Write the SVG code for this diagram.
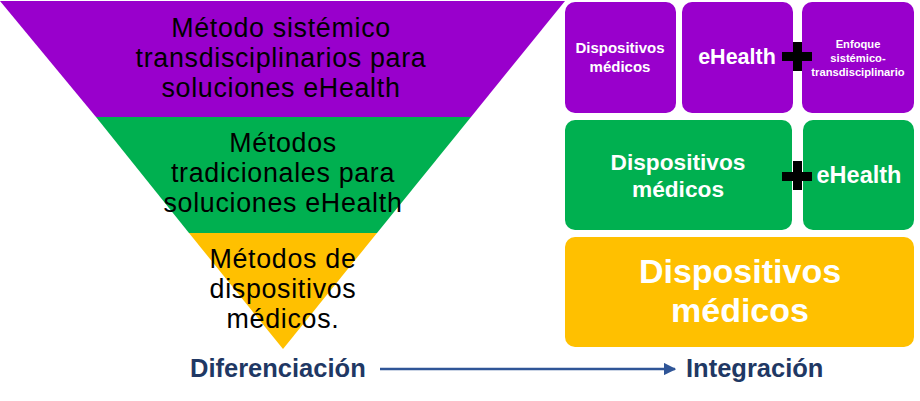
<svg xmlns="http://www.w3.org/2000/svg" width="920" height="401" viewBox="0 0 920 401">
<defs>
<style>
.tri{font-family:"Liberation Sans",Arial,sans-serif;font-size:26.8px;letter-spacing:0.7px;fill:#000;text-anchor:middle}
.box{font-family:"Liberation Sans",Arial,sans-serif;font-weight:bold;fill:#fff;text-anchor:middle}
.lbl{font-family:"Liberation Sans",Arial,sans-serif;font-weight:bold;font-size:25.5px;fill:#1F3864}
.p{fill:#9900CC}.g{fill:#00B050}.y{fill:#FFC000}
</style>
<marker id="ah" viewBox="0 0 10 10" refX="9" refY="5" markerWidth="5" markerHeight="5" orient="auto">
<path d="M0,0 L10,5 L0,10 z" fill="#2F5597"/>
</marker>
</defs>
<g id="pyramid">
<g id="tri-top"><polygon class="p" points="0,1 565,1 471,117 96,117"/>
<text class="tri" x="281" y="37">Método sistémico</text>
<text class="tri" x="281" y="67">transdisciplinarios para</text>
<text class="tri" x="281" y="97">soluciones eHealth</text></g>
<g id="tri-mid"><polygon class="g" points="96,117 471,117 377,233 189,233"/>
<text class="tri" x="283" y="152">Métodos</text>
<text class="tri" x="283" y="182">tradicionales para</text>
<text class="tri" x="283" y="212">soluciones eHealth</text></g>
<g id="tri-bot"><polygon class="y" points="189,233 377,233 283,349"/>
<text class="tri" x="283" y="268">Métodos de</text>
<text class="tri" x="283" y="298">dispositivos</text>
<text class="tri" x="283" y="328">médicos.</text></g>
</g>
<g id="b1"><rect class="p" x="565" y="2" width="111" height="111" rx="10"/>
<text class="box" x="620" y="53" font-size="15">Dispositivos</text>
<text class="box" x="620" y="72" font-size="15">médicos</text></g>
<g id="b2"><rect class="p" x="682" y="2" width="111" height="111" rx="10"/>
<text class="box" x="737" y="64" font-size="21.5">eHealth</text></g>
<g id="b3"><rect class="p" x="802" y="2" width="112" height="111" rx="10"/>
<text class="box" x="858" y="48" font-size="11.2">Enfoque</text>
<text class="box" x="858" y="62" font-size="11.2">sistémico-</text>
<text class="box" x="858" y="76" font-size="11.2">transdisciplinario</text></g>
<g id="b4"><rect class="g" x="565" y="120" width="227" height="110" rx="10"/>
<text class="box" x="678" y="170" font-size="22.7">Dispositivos</text>
<text class="box" x="678" y="197" font-size="22.7">médicos</text></g>
<g id="b5"><rect class="g" x="803" y="120" width="111" height="110" rx="10"/>
<text class="box" x="859" y="183" font-size="23.5">eHealth</text></g>
<g id="b6"><rect class="y" x="565" y="237" width="349" height="110" rx="10"/>
<text class="box" x="740" y="283" font-size="34">Dispositivos</text>
<text class="box" x="740" y="322" font-size="34">médicos</text></g>
<g id="plus1"><rect x="782" y="52" width="30" height="9" fill="#000"/><rect x="793" y="42" width="9" height="29" fill="#000"/></g>
<g id="plus2"><rect x="782" y="172" width="30" height="9" fill="#000"/><rect x="793" y="161" width="9" height="29" fill="#000"/></g>
<g id="connectors">
<line x1="380" y1="369" x2="675" y2="369" stroke="#2F5597" stroke-width="2.5" marker-end="url(#ah)"/>
</g>
<g id="labels">
<text class="lbl" x="190" y="377">Diferenciación</text>
<text class="lbl" x="686" y="377">Integración</text>
</g>
</svg>
